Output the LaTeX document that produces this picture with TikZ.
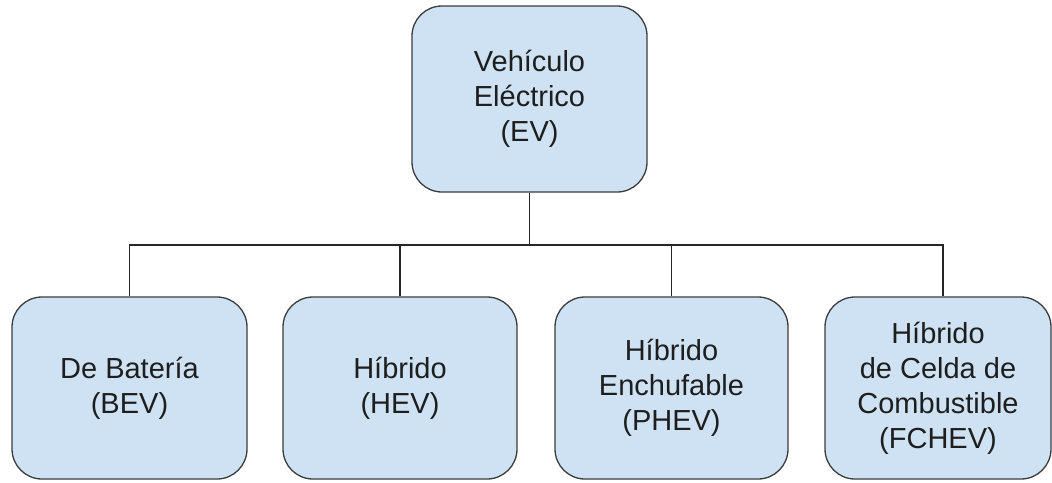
\documentclass[tikz,border=0pt]{standalone}
\usepackage{fontspec}
\setmainfont{Liberation Sans}
\definecolor{boxfill}{HTML}{CFE2F3}
\definecolor{boxline}{HTML}{3C3C3C}
\definecolor{txt}{HTML}{1E1E1E}
\tikzset{
  catbox/.style={draw=boxline, line width=1.3pt, fill=boxfill, rounded corners=30pt,
    rectangle, align=center, text=txt, inner sep=0pt,
    font=\fontsize{29}{35}\selectfont},
  link/.style={draw=black!85, line width=1.1pt}
}
\begin{document}
\begin{tikzpicture}[x=1pt, y=-1pt]
  \useasboundingbox (0,0) rectangle (1052,482);
  % root of the classification
  \node[catbox, minimum width=235pt, minimum height=186pt] (ev) at (529.5,99)
    {Vehículo\\Eléctrico\\(EV)};
  % the four kinds of electric vehicle
  \node[catbox, minimum width=235pt, minimum height=182pt] (bev) at (129.5,388)
    {De Batería\\(BEV)};
  \node[catbox, minimum width=234pt, minimum height=182pt] (hev) at (400,388)
    {Híbrido\\(HEV)};
  \node[catbox, minimum width=233pt, minimum height=182pt] (phev) at (671.5,388)
    {Híbrido\\Enchufable\\(PHEV)};
  \node[catbox, minimum width=226pt, minimum height=182pt] (fchev) at (938,388)
    {Híbrido\\de Celda de\\Combustible\\(FCHEV)};
  % bus line joining the branches
  \coordinate (bus) at (0,245);
  \coordinate (fjoin) at (943,245);
  \draw[link] (ev.south) -- (ev.south |- bus);
  \draw[link] (bev.north) -- (bev.north |- bus) -- (fjoin) -- (fjoin |- fchev.north);
  \draw[link] (hev.north) -- (hev.north |- bus);
  \draw[link] (phev.north) -- (phev.north |- bus);
\end{tikzpicture}
\end{document}
